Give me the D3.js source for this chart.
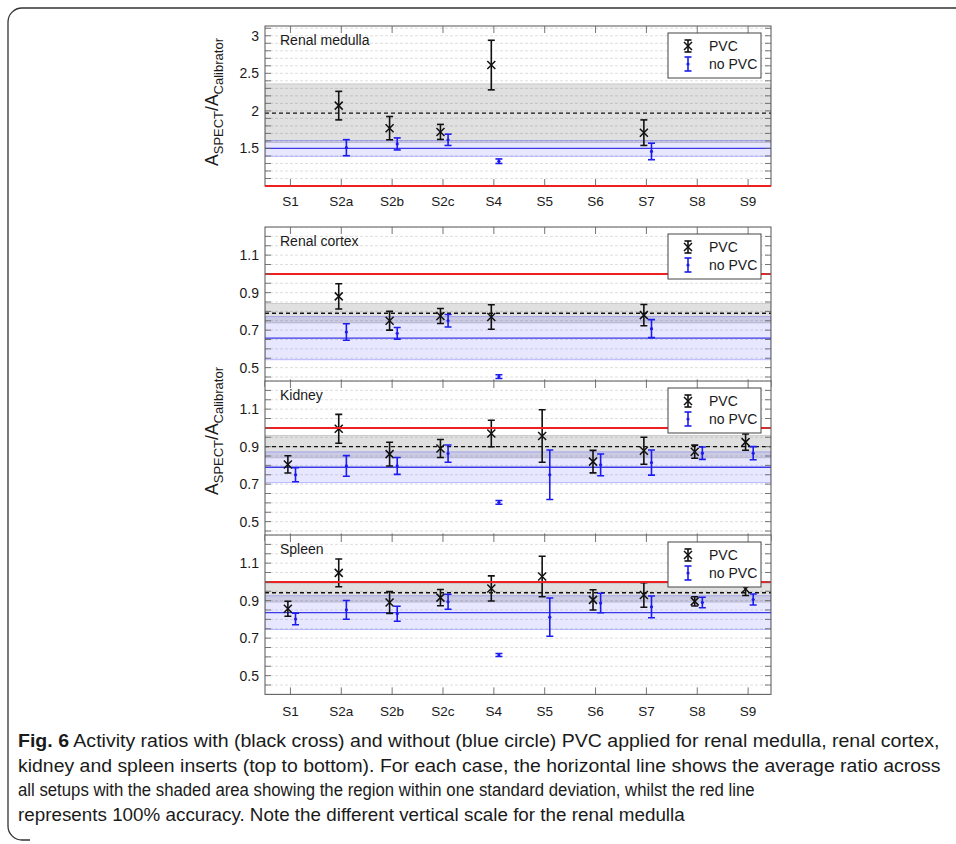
<!DOCTYPE html>
<html>
<meta charset="utf-8">
<script src="https://d3js.org/d3.v7.min.js"></script>
<style>
body { margin:0; background:#fff; }
text { font-family: "Liberation Sans", Arial, sans-serif; fill:#1a1a1a; }
</style>
<body>
<script>

// setups along the x axis
var categories = ["S1", "S2a", "S2b", "S2c", "S4", "S5", "S6", "S7", "S8", "S9"];

// renal medulla
var medullaPvc       = [null, 2.07, 1.77, 1.72, 2.61, null, null, 1.71, null, null];
var medullaPvcErr    = [null, 0.19, 0.155, 0.10, 0.33, null, null, 0.17, null, null];
var medullaNoPvc     = [null, 1.51, 1.56, 1.615, 1.33, null, null, 1.46, null, null];
var medullaNoPvcErr  = [null, 0.107, 0.08, 0.075, 0.03, null, null, 0.11, null, null];
var medullaStats     = [1.97, 0.39, 1.50, 0.105];   // pvc mean, sd, no pvc mean, sd

// renal cortex
var cortexPvc        = [null, 0.88, 0.75, 0.775, 0.77, null, null, 0.78, null, null];
var cortexPvcErr     = [null, 0.067, 0.05, 0.04, 0.065, null, null, 0.057, null, null];
var cortexNoPvc      = [null, 0.69, 0.683, 0.75, 0.452, null, null, 0.708, null, null];
var cortexNoPvcErr   = [null, 0.044, 0.031, 0.033, 0.01, null, null, 0.048, null, null];
var cortexStats      = [0.79, 0.052, 0.657, 0.115];

// kidney
var kidneyPvc        = [0.805, 0.995, 0.86, 0.89, 0.97, 0.957, 0.82, 0.878, 0.873, 0.924];
var kidneyPvcErr     = [0.046, 0.077, 0.063, 0.048, 0.071, 0.14, 0.06, 0.072, 0.035, 0.043];
var kidneyNoPvc      = [0.75, 0.797, 0.797, 0.863, 0.603, 0.75, 0.803, 0.815, 0.865, 0.865];
var kidneyNoPvcErr   = [0.037, 0.055, 0.045, 0.046, 0.01, 0.132, 0.058, 0.067, 0.033, 0.035];
var kidneyStats      = [0.90, 0.06, 0.79, 0.082];

// spleen
var spleenPvc        = [0.857, 1.048, 0.89, 0.916, 0.965, 1.029, 0.904, 0.93, 0.896, 0.962];
var spleenPvcErr     = [0.04, 0.074, 0.058, 0.043, 0.067, 0.108, 0.054, 0.065, 0.025, 0.035];
var spleenNoPvc      = [0.802, 0.851, 0.83, 0.894, 0.61, 0.812, 0.887, 0.867, 0.89, 0.906];
var spleenNoPvcErr   = [0.031, 0.05, 0.04, 0.04, 0.008, 0.102, 0.052, 0.058, 0.028, 0.029];
var spleenStats      = [0.942, 0.05, 0.836, 0.09];

var medullaTicks = [1.5, 2, 2.5, 3];
var organTicks = [0.5, 0.7, 0.9, 1.1];

var captionLines = [
  " Activity ratios with (black cross) and without (blue circle) PVC applied for renal medulla, renal cortex,",
  "kidney and spleen inserts (top to bottom). For each case, the horizontal line shows the average ratio across",
  "all setups with the shaded area showing the region within one standard deviation, whilst the red line",
  "represents 100% accuracy. Note the different vertical scale for the renal medulla"
];

var svg = d3.select("body").append("svg")
  .attr("width", 956)
  .attr("height", 844);

// outer figure frame
svg.append("path")
  .attr("d", "M956,8 H22 A14,14 0 0 0 8,22 V826 A14,14 0 0 0 22,840 H30")
  .attr("fill", "none")
  .attr("stroke", "#333")
  .attr("stroke-width", 1.3);

var left = 265, right = 771;
var x = d3.scaleLinear().domain([0.5, 10.45]).range([left, right]);

var organGrid = d3.range(8, 26).map(function(i){ return i * 0.05; });
var medullaGrid = d3.range(10, 32).map(function(i){ return i * 0.1; });

var panels = [
  {name: "Renal medulla", top: 26, bottom: 186, domain: [1, 3.13], grid: medullaGrid, ticks: medullaTicks,
   pvc: medullaPvc, pvcErr: medullaPvcErr, nopvc: medullaNoPvc, nopvcErr: medullaNoPvcErr, stats: medullaStats, xlab: 206},
  {name: "Renal cortex", top: 227, domain: [0.4, 1.25], grid: organGrid, ticks: organTicks,
   pvc: cortexPvc, pvcErr: cortexPvcErr, nopvc: cortexNoPvc, nopvcErr: cortexNoPvcErr, stats: cortexStats},
  {name: "Kidney", top: 381, domain: [0.4, 1.25], grid: organGrid, ticks: organTicks,
   pvc: kidneyPvc, pvcErr: kidneyPvcErr, nopvc: kidneyNoPvc, nopvcErr: kidneyNoPvcErr, stats: kidneyStats},
  {name: "Spleen", top: 535, domain: [0.4, 1.25], grid: organGrid, ticks: organTicks,
   pvc: spleenPvc, pvcErr: spleenPvcErr, nopvc: spleenNoPvc, nopvcErr: spleenNoPvcErr, stats: spleenStats, xlab: 716}
];

var blue = "#1c1cf0";

function errorBar(g, cx, y, v, e, color, marker) {
  var cap = 3.5;
  g.append("line").attr("x1", cx).attr("x2", cx).attr("y1", y(v - e)).attr("y2", y(v + e))
    .attr("stroke", color).attr("stroke-width", 1.6);
  [v - e, v + e].forEach(function(t){
    g.append("line").attr("x1", cx - cap).attr("x2", cx + cap).attr("y1", y(t)).attr("y2", y(t))
      .attr("stroke", color).attr("stroke-width", 1.6);
  });
  if (marker == "x") {
    var s = 4, cy = y(v);
    g.append("path").attr("d", `M${cx-s},${cy-s}L${cx+s},${cy+s}M${cx-s},${cy+s}L${cx+s},${cy-s}`)
      .attr("stroke", color).attr("stroke-width", 1.5);
  } else {
    g.append("circle").attr("cx", cx).attr("cy", y(v)).attr("r", 1.6).attr("fill", color);
  }
}

panels.forEach(function(p, k) {
  if (!p.bottom) p.bottom = p.top + (p.domain[1] - p.domain[0]) * 187.5;
  var y = d3.scaleLinear().domain(p.domain).range([p.bottom, p.top]);
  var g = svg.append("g");

  svg.append("clipPath").attr("id", "clip" + k)
    .append("rect").attr("x", left).attr("y", p.top).attr("width", right - left).attr("height", p.bottom - p.top);

  g.append("rect").attr("x", left).attr("y", p.top).attr("width", right - left).attr("height", p.bottom - p.top + 1)
    .attr("fill", "#fff");

  var inner = g.append("g").attr("clip-path", "url(#clip" + k + ")");

  // dotted grid
  inner.selectAll(".grid").data(p.grid).enter().append("line")
    .attr("x1", left).attr("x2", right)
    .attr("y1", function(d){ return y(d); }).attr("y2", function(d){ return y(d); })
    .attr("stroke", "#d6d6d6").attr("stroke-width", 0.8).attr("stroke-dasharray", "3,2");

  var s = p.stats;
  // grey band (PVC) and blue band (no PVC)
  inner.append("rect").attr("x", left).attr("width", right - left)
    .attr("y", y(s[0] + s[1])).attr("height", y(s[0] - s[1]) - y(s[0] + s[1]))
    .attr("fill", "rgba(0,0,0,0.12)").attr("stroke", "rgba(0,0,0,0.18)").attr("stroke-width", 0.8);
  inner.append("rect").attr("x", left).attr("width", right - left)
    .attr("y", y(s[2] + s[3])).attr("height", y(s[2] - s[3]) - y(s[2] + s[3]))
    .attr("fill", "rgba(60,60,255,0.12)").attr("stroke", "rgba(60,60,255,0.35)").attr("stroke-width", 0.9);

  inner.append("line").attr("x1", left).attr("x2", right).attr("y1", y(s[2])).attr("y2", y(s[2]))
    .attr("stroke", "#3a3ae8").attr("stroke-width", 1.3);
  inner.append("line").attr("x1", left).attr("x2", right).attr("y1", y(s[0])).attr("y2", y(s[0]))
    .attr("stroke", "#111").attr("stroke-width", 1.3).attr("stroke-dasharray", "4,3");

  // frame
  g.append("rect").attr("x", left).attr("y", p.top).attr("width", right - left).attr("height", p.bottom - p.top)
    .attr("fill", "none").attr("stroke", "#555").attr("stroke-width", 1);

  // 100% accuracy line
  g.append("line").attr("x1", left).attr("x2", right).attr("y1", y(1)).attr("y2", y(1))
    .attr("stroke", "#f02020").attr("stroke-width", 2);

  // error bars
  categories.forEach(function(c, i) {
    if (p.pvc[i] != null) errorBar(inner, x(i + 1 - 0.05), y, p.pvc[i], p.pvcErr[i], "#111", "x");
    if (p.nopvc[i] != null) errorBar(inner, x(i + 1 + 0.1), y, p.nopvc[i], p.nopvcErr[i], blue, "o");
  });

  // ticks
  var tl = 6;
  p.grid.forEach(function(d) {
    if (d <= p.domain[0] + 1e-6 || d >= p.domain[1] - 1e-6) return;
    g.append("line").attr("x1", left).attr("x2", left + tl).attr("y1", y(d)).attr("y2", y(d))
      .attr("stroke", "#666").attr("stroke-width", 0.9);
    g.append("line").attr("x1", right - tl).attr("x2", right).attr("y1", y(d)).attr("y2", y(d))
      .attr("stroke", "#666").attr("stroke-width", 0.9);
  });
  categories.forEach(function(c, i) {
    g.append("line").attr("x1", x(i + 1)).attr("x2", x(i + 1)).attr("y1", p.top).attr("y2", p.top + tl + 1)
      .attr("stroke", "#666").attr("stroke-width", 0.9);
    g.append("line").attr("x1", x(i + 1)).attr("x2", x(i + 1)).attr("y1", p.bottom).attr("y2", p.bottom - tl - 1)
      .attr("stroke", "#666").attr("stroke-width", 0.9);
  });

  g.selectAll(".ylab").data(p.ticks).enter().append("text")
    .attr("x", left - 6).attr("y", function(d){ return y(d) + 5; })
    .attr("text-anchor", "end").attr("font-size", 14)
    .text(function(d){ return String(d); });

  if (p.xlab) {
    g.selectAll(".xlab").data(categories).enter().append("text")
      .attr("x", function(d, i){ return x(i + 1); }).attr("y", p.xlab)
      .attr("text-anchor", "middle").attr("font-size", 13.5)
      .text(function(d){ return d; });
  }

  g.append("text").attr("x", 280).attr("y", p.top + 19).attr("font-size", 14).text(p.name);

  // legend
  var lg = g.append("g").attr("transform", `translate(668,${p.top + 7})`);
  lg.append("rect").attr("width", 93).attr("height", 45).attr("fill", "#fff").attr("stroke", "#444").attr("stroke-width", 1);
  var ly = d3.scaleLinear().domain([0, 1]).range([19, 7]);
  errorBar(lg, 20, ly, 0.5, 0.5, "#111", "x");
  var ly2 = d3.scaleLinear().domain([0, 1]).range([38, 24]);
  errorBar(lg, 20, ly2, 0.5, 0.5, blue, "o");
  lg.append("text").attr("x", 41).attr("y", 18).attr("font-size", 14).text("PVC");
  lg.append("text").attr("x", 41).attr("y", 36).attr("font-size", 14).text("no PVC");
});

// y axis titles
function yTitle(cy) {
  var t = svg.append("text").attr("transform", `translate(218,${cy}) rotate(-90)`)
    .attr("text-anchor", "middle").attr("font-size", 17.5);
  t.append("tspan").text("A");
  t.append("tspan").attr("font-size", 13).attr("dy", 5).text("SPECT");
  t.append("tspan").attr("dy", -5).text("/A");
  t.append("tspan").attr("font-size", 13).attr("dy", 5).text("Calibrator");
}
yTitle(102);
yTitle(431);

// caption: squeeze each line horizontally to the width it has in the condensed original
var capWidths = [922, 923, 737, 667];
captionLines.forEach(function(line, i) {
  var t = svg.append("text")
    .attr("font-size", 18.5)
    .attr("fill", "#1a1a1a");
  if (i == 0) t.append("tspan").attr("font-weight", "bold").text("Fig. 6");
  t.append("tspan").text(line);
  var w = t.node().getComputedTextLength();
  t.attr("transform", `translate(18,${747 + i * 24.7}) scale(${capWidths[i] / w},1)`);
});

</script>
</body>
</html>
